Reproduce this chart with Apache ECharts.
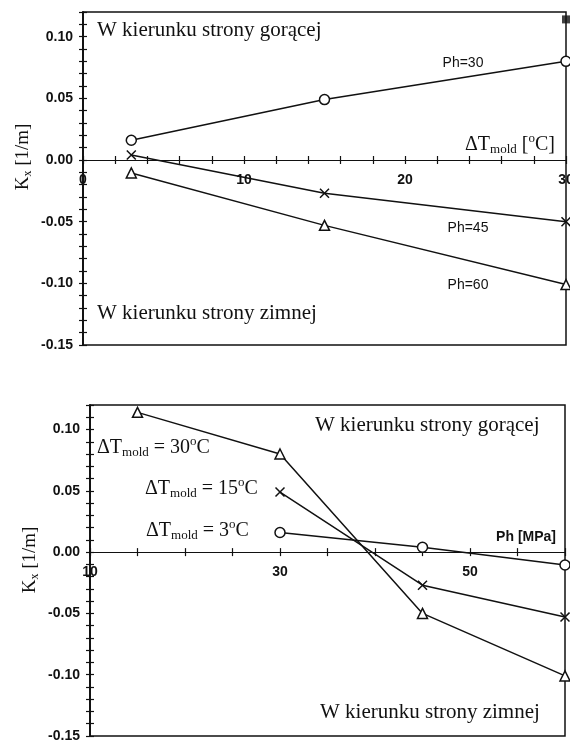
<!DOCTYPE html>
<html><head><meta charset="utf-8">
<script src="https://cdn.jsdelivr.net/npm/echarts@6/dist/echarts.min.js"></script>
<style>html,body{margin:0;padding:0;background:#fff}#chart{width:570px;height:740px}</style>
</head><body><div id="chart"></div>
<script>
// Curvature K_x of a moulded part vs. mould temperature difference and holding pressure
const dTmold = [3, 15, 30];            // ΔT_mold [°C]
const phLevels = [30, 45, 60];         // holding pressure Ph [MPa]
const kxPh30 = [0.016, 0.049, 0.080];  // K_x at Ph=30 for each ΔT_mold
const kxPh45 = [0.004, -0.027, -0.050];
const kxPh60 = [-0.0105, -0.053, -0.101];
const phLow = 15;                      // extra low-pressure run, ΔT_mold = 30 only
const kxPhLowDT30 = 0.114;

const xLabelsTop = [0, 10, 20, 30];
const xLabelsBottom = [10, 30, 50];
const yLabels = [-0.15, -0.10, -0.05, 0.00, 0.05, 0.10];

const kxByPh = [kxPh30, kxPh45, kxPh60];

const SERIF = '"Liberation Serif", "Times New Roman", serif';
const SANS = '"Liberation Sans", Arial, sans-serif';
const INK = '#111';

const inList = (list, v) => list.some(t => Math.abs(t - v) < 1e-6);

const symCross = 'path://M0,0L10,10M10,0L0,10';
const markers = [
  { symbol: 'circle', symbolSize: 10 },
  { symbol: symCross, symbolSize: 9 },
  { symbol: 'triangle', symbolSize: 10 }
];

function lineSeries(data, m, xi, yi) {
  return {
    type: 'line', data, xAxisIndex: xi, yAxisIndex: yi,
    symbol: m.symbol, symbolSize: m.symbolSize, showAllSymbol: true,
    clip: false, z: 3,
    lineStyle: { color: INK, width: 1.5 },
    itemStyle: { color: '#fff', borderColor: INK, borderWidth: 1.5 },
    emphasis: { disabled: true }
  };
}

// two overlapping x axes give ticks that cross the axis line
function xAxisPair(grid, min, max, interval, labels) {
  const base = {
    gridIndex: grid, type: 'value', min, max, interval, position: 'bottom', offset: 0,
    axisLine: { onZero: false, lineStyle: { color: INK, width: 1.2 } },
    splitLine: { show: false }
  };
  return [
    Object.assign({}, base, {
      axisTick: { inside: false, length: 4, lineStyle: { color: INK, width: 1.2 } },
      axisLabel: {
        margin: 13, color: INK, fontFamily: SANS, fontSize: 14, fontWeight: 'bold',
        formatter: v => inList(labels, v) ? String(v) : ''
      }
    }),
    Object.assign({}, base, {
      axisTick: { inside: true, length: 4, lineStyle: { color: INK, width: 1.2 } },
      axisLabel: { show: false }
    })
  ];
}

function yAxisPair(grid) {
  const base = {
    gridIndex: grid, type: 'value', min: -0.15, max: 0.12, interval: 0.01, position: 'left',
    axisLine: { onZero: false, lineStyle: { color: INK, width: 1.5 } },
    splitLine: { show: false }
  };
  return [
    Object.assign({}, base, {
      axisTick: { inside: false, length: 4, lineStyle: { color: INK, width: 1.2 } },
      axisLabel: {
        margin: 10, color: INK, fontFamily: SANS, fontSize: 14, fontWeight: 'bold',
        formatter: v => inList(yLabels, v) ? v.toFixed(2) : ''
      }
    }),
    Object.assign({}, base, {
      axisTick: { inside: true, length: 4, lineStyle: { color: INK, width: 1.2 } },
      axisLabel: { show: false }
    })
  ];
}

// text made of pieces with different sizes / vertical offsets (sub- and superscripts)
const ctx = document.createElement('canvas').getContext('2d');
function pieces(list, x, y, opt) {
  opt = opt || {};
  let cx = 0;
  const kids = [];
  list.forEach(p => {
    const font = (p.weight || 'normal') + ' ' + p.size + 'px ' + (p.family || SERIF);
    ctx.font = font;
    const w = ctx.measureText(p.t).width;
    kids.push({
      type: 'text', x: cx, y: p.dy || 0, silent: true,
      style: { text: p.t, font, fill: INK, textAlign: 'left', textVerticalAlign: 'middle', verticalAlign: 'middle' }
    });
    cx += w;
  });
  const shift = opt.align === 'center' ? -cx / 2 : (opt.align === 'right' ? -cx : 0);
  kids.forEach(k => { k.x += shift; });
  return { type: 'group', x, y, rotation: opt.rotation || 0, silent: true, children: kids };
}

const BIG = 20, SUB = 13;
function dTLabel(value, x, y) {
  return pieces([
    { t: 'ΔT', size: BIG }, { t: 'mold', size: SUB, dy: 5 },
    { t: ' = ' + value, size: BIG }, { t: 'o', size: SUB, dy: -6 }, { t: 'C', size: BIG }
  ], x, y);
}
function kxLabel(x, y) {
  return pieces([
    { t: 'K', size: 19 }, { t: 'x', size: 12, dy: 5 }, { t: ' [1/m]', size: 19 }
  ], x, y, { align: 'center', rotation: Math.PI / 2 });
}
function plain(t, x, y, size, family, weight, align) {
  return {
    type: 'text', x, y, silent: true,
    style: {
      text: t, fill: INK, font: (weight || 'normal') + ' ' + size + 'px ' + family,
      textAlign: align || 'left', textVerticalAlign: 'middle', verticalAlign: 'middle'
    }
  };
}

const topX = xAxisPair(0, 0, 30, 2, xLabelsTop);
const botX = xAxisPair(1, 10, 60, 5, xLabelsBottom);
const topY = yAxisPair(0);
const botY = yAxisPair(1);

const series = [];
// top: K_x vs ΔT_mold, one line per holding pressure
kxByPh.forEach((row, i) => {
  series.push(lineSeries(dTmold.map((d, j) => [d, row[j]]), markers[i], 0, 0));
});
series.push({
  type: 'scatter', xAxisIndex: 0, yAxisIndex: 0, clip: false, z: 4,
  data: [[dTmold[2], kxPhLowDT30]], symbol: 'rect', symbolSize: 8,
  itemStyle: { color: INK }
});
// bottom: K_x vs Ph, one line per ΔT_mold
dTmold.forEach((d, j) => {
  const pts = phLevels.map((p, i) => [p, kxByPh[i][j]]);
  if (j === 2) pts.unshift([phLow, kxPhLowDT30]);
  series.push(lineSeries(pts, markers[j], 2, 2));
});

const grids = [
  { left: 83, top: 12, width: 483, height: 333 },
  { left: 90, top: 405, width: 475, height: 331 }
].map(g => Object.assign(g, {
  show: true, borderColor: INK, borderWidth: 1.5, containLabel: false, outerBoundsMode: 'none'
}));

const chart = echarts.init(document.getElementById('chart'), null, { renderer: 'canvas' });
chart.setOption({
  animation: false,
  backgroundColor: '#fff',
  grid: grids,
  xAxis: [...topX, ...botX],
  yAxis: [...topY, ...botY],
  series,
  graphic: [
    plain('W kierunku strony gorącej', 97, 30, 21, SERIF),
    plain('W kierunku strony zimnej', 97, 313, 21, SERIF),
    plain('Ph=30', 463, 63, 14, SANS, 'normal', 'center'),
    plain('Ph=45', 468, 228, 14, SANS, 'normal', 'center'),
    plain('Ph=60', 468, 285, 14, SANS, 'normal', 'center'),
    pieces([
      { t: 'ΔT', size: BIG }, { t: 'mold', size: SUB, dy: 5 },
      { t: ' [', size: BIG }, { t: 'o', size: SUB, dy: -6 }, { t: 'C]', size: BIG }
    ], 465, 145),
    kxLabel(23, 157),

    plain('W kierunku strony gorącej', 315, 425, 21, SERIF),
    plain('W kierunku strony zimnej', 320, 712, 21, SERIF),
    dTLabel('30', 97, 448),
    dTLabel('15', 145, 489),
    dTLabel('3', 146, 531),
    plain('Ph [MPa]', 556, 537, 14, SANS, 'bold', 'right'),
    kxLabel(30, 560)
  ]
});

// move each x axis (line, ticks and labels) up to K_x = 0 of its grid
const xOffsets = [0, 1].map(g => {
  const zeroY = chart.convertToPixel({ yAxisIndex: g * 2 }, 0);
  return zeroY - (grids[g].top + grids[g].height);
});
chart.setOption({
  xAxis: [0, 1, 2, 3].map(i => ({ offset: xOffsets[Math.floor(i / 2)] }))
});
</script>
</body></html>
